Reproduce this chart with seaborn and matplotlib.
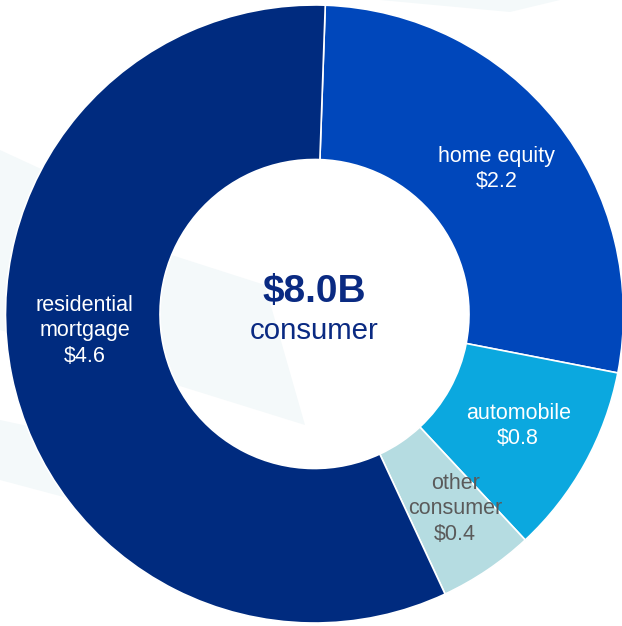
import numpy as np
import matplotlib.pyplot as plt
import seaborn as sns
from matplotlib.patches import Polygon

# consumer loan breakdown ($B)
categories = ["home equity", "automobile", "other\nconsumer", "residential\nmortgage"]
values = [2.2, 0.8, 0.4, 4.6]
total_label = "$8.0B"
center_caption = "consumer"

colors = ["#0047BB", "#0BA8DF", "#B5DCE1", "#002B7F"]
label_colors = ["white", "white", "#5a5a5a", "white"]
# (radius, angle in degrees) of each slice label
label_pos = [(0.754, 38.5), (0.752, -28.8), (0.778, -54.2), (0.745, 184.2)]

sns.set_theme(style="white")
plt.rcParams["font.family"] = ["Liberation Sans", "DejaVu Sans"]

W, H = 622, 626
fig = plt.figure(figsize=(W / 100, H / 100), dpi=100)
fig.patch.set_facecolor("white")

# faint background shapes (pixel coords, y down), on their own axes behind the donut
bg = fig.add_axes([0, 0, 1, 1], zorder=0)
bg.set_xlim(0, W)
bg.set_ylim(H, 0)
bg.axis("off")
for pts in [[(0, 150), (130, 210), (165, 300), (0, 260)],
            [(0, 200), (265, 285), (305, 425), (0, 330)],
            [(380, 0), (560, 0), (510, 12)],
            [(0, 420), (140, 450), (150, 520), (0, 480)]]:
    bg.add_patch(Polygon(pts, closed=True, facecolor="#f4f9fa", edgecolor="none"))

ax = fig.add_axes([0, 0, 1, 1], zorder=1)
ax.patch.set_alpha(0)
ax.pie(values, colors=colors, startangle=88, counterclock=False, radius=1,
       wedgeprops=dict(width=0.5, edgecolor="white", linewidth=1.2))
ax.set_aspect("equal")
cx, cy, R = 314.5, 314, 309
ax.set_xlim(-cx / R, (W - cx) / R)
ax.set_ylim(-(H - cy) / R, cy / R)
ax.axis("off")

# slice labels
for cat, val, col, (r, ang) in zip(categories, values, label_colors, label_pos):
    a = np.deg2rad(ang)
    ax.text(r * np.cos(a), r * np.sin(a), f"{cat}\n${val:.1f}", color=col,
            ha="center", va="center", fontsize=15.5, linespacing=1.28)

# center text
ax.text(0, 0.071, total_label, color="#0A2A82", fontsize=28, fontweight="bold",
        ha="center", va="center")
ax.text(0, -0.055, center_caption, color="#0A2A82", fontsize=21.2,
        ha="center", va="center")

fig.savefig("out.png", dpi=100)
plt.close(fig)
